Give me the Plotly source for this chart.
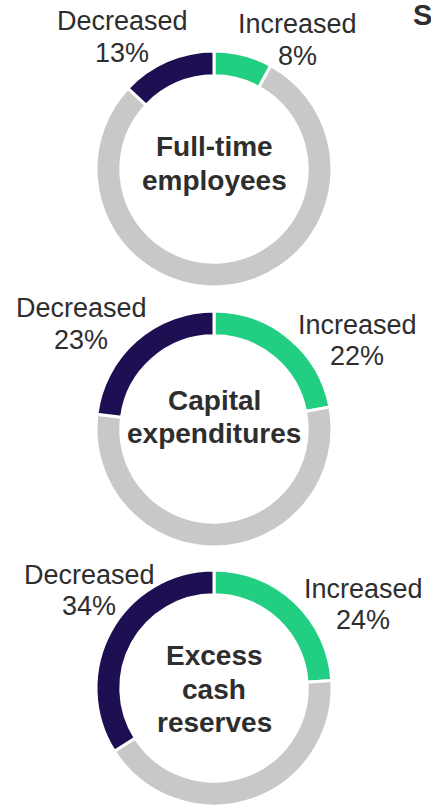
import plotly.graph_objects as go

W, H = 431, 806

# Survey results: share of respondents reporting a change in each metric
metrics = [["Full-time", "employees"], ["Capital", "expenditures"], ["Excess", "cash", "reserves"]]
increased = [8, 22, 24]
unchanged = [79, 55, 42]
decreased = [13, 23, 34]
slice_names = ["Increased", "Unchanged", "Decreased"]

GREEN = "#22CE82"
GREY = "#C8C8C8"
NAVY = "#1E0E52"
TEXT = "#2E2E2E"
FONT = "Liberation Sans, Arial, sans-serif"

# pixel layout of each donut: centre x, centre y, outer radius
centres = [(214, 169), (214, 429), (214, 688)]
radius = 118
# label anchors (pixels): decreased line centres, increased line centres
dec_pos = [(122, 21, 53), (81, 308, 340), (89, 575, 606)]
inc_pos = [(297, 24, 56), (357, 325, 356), (363, 589, 620)]
# centre-title line centres
title_lines = [[146, 180], [400, 433], [655, 689, 722]]


def px(x):
    return x / W


def py(y):
    return 1 - y / H


fig = go.Figure()
annotations = []

for i, (cx, cy) in enumerate(centres):
    fig.add_trace(go.Pie(
        values=[increased[i], unchanged[i], decreased[i]],
        labels=slice_names,
        hole=0.79,
        sort=False,
        direction="clockwise",
        rotation=0,
        textinfo="none",
        hoverinfo="label+value",
        marker=dict(colors=[GREEN, GREY, NAVY], line=dict(color="white", width=3)),
        domain=dict(x=[px(cx - radius), px(cx + radius)],
                    y=[py(cy + radius), py(cy - radius)]),
        showlegend=False,
    ))

    # centre title, one annotation per line
    for line, ly in zip(metrics[i], title_lines[i]):
        annotations.append(dict(
            x=px(cx), y=py(ly), xref="paper", yref="paper",
            text=f"<b>{line}</b>", showarrow=False,
            xanchor="center", yanchor="middle",
            font=dict(family=FONT, size=28, color=TEXT),
        ))

    dx, dy1, dy2 = dec_pos[i]
    ix, iy1, iy2 = inc_pos[i]
    for text, x, y in [("Decreased", dx, dy1), (f"{decreased[i]}%", dx, dy2),
                       ("Increased", ix, iy1), (f"{increased[i]}%", ix, iy2)]:
        annotations.append(dict(
            x=px(x), y=py(y), xref="paper", yref="paper",
            text=text, showarrow=False,
            xanchor="center", yanchor="middle",
            font=dict(family=FONT, size=27, color=TEXT),
        ))

# start of the panel heading to the right
annotations.append(dict(
    x=px(411), y=py(15), xref="paper", yref="paper",
    text="<b>S</b>", showarrow=False, xanchor="left", yanchor="middle",
    font=dict(family=FONT, size=29, color=TEXT),
))

fig.update_layout(
    width=W, height=H,
    margin=dict(l=0, r=0, t=0, b=0),
    paper_bgcolor="white", plot_bgcolor="white",
    annotations=annotations,
)

fig.write_html("out.html")
